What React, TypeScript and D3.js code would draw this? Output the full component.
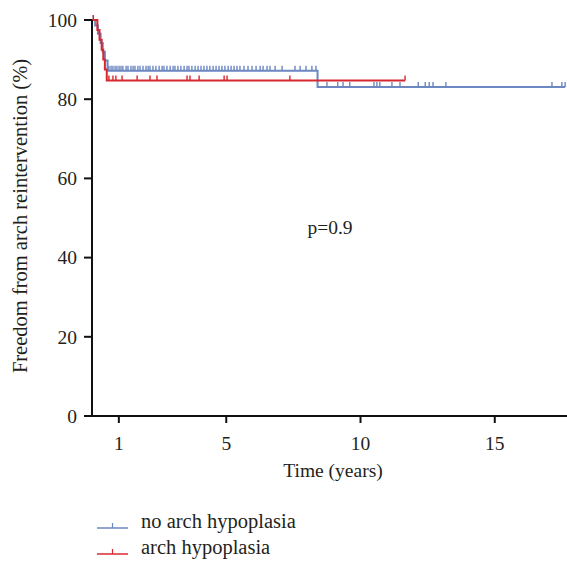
import React from "react";
import * as d3 from "d3";

const yTicks = [0, 20, 40, 60, 80, 100];
const xTicks = [1, 5, 10, 15];

// Kaplan-Meier step points [time, survival %]
const blueSteps: [number, number][] = [
  [0, 100], [0.12, 98.6], [0.22, 96.5], [0.32, 94.2], [0.4, 92], [0.48, 89.8], [0.58, 87.2], [8.4, 83.1], [17.62, 83.1],
];
const redSteps: [number, number][] = [
  [0, 100], [0.2, 97.5], [0.28, 95], [0.36, 92.5], [0.42, 90], [0.48, 87.5], [0.55, 84.7], [11.66, 84.7],
];
const blueCensor: number[] = [
  0.05, 0.63, 0.71, 0.78, 0.86, 0.93, 1.01, 1.08, 1.15, 1.27, 1.34, 1.45, 1.53, 1.6, 1.71, 1.79, 1.9, 2.01, 2.09, 2.16,
  2.27, 2.38, 2.5, 2.61, 2.68, 2.79, 2.91, 3.02, 3.09, 3.2, 3.31, 3.43, 3.54, 3.61, 3.72, 3.84, 3.95, 4.06,
  4.17, 4.28, 4.39, 4.51, 4.62, 4.73, 4.84, 4.95, 5.07, 5.18, 5.29, 5.4, 5.51, 5.66, 5.81, 5.96, 6.11, 6.26,
  6.37, 6.52, 6.63, 6.82, 7.08, 7.56, 7.75, 7.97, 8.19, 8.34,
  8.75, 9.15, 9.35, 9.6, 10.5, 10.61, 10.72, 11.17, 11.47, 12.15, 12.41, 12.56, 12.7, 13.18, 17.13, 17.5, 17.62,
];
const redCensor: number[] = [
  0.05, 0.63, 0.78, 0.89, 1.12, 1.68, 2.16, 2.42, 3.54, 3.65, 3.99, 4.92, 5.03, 7.37, 11.66,
];

const legendLabels = ["no arch hypoplasia", "arch hypoplasia"];
const colors = ["#6c87c2", "#d7282f"];

function survAt(steps: [number, number][], t: number) {
  let v = steps[0][1];
  for (const s of steps) if (s[0] <= t) v = s[1];
  return v;
}

export default function App() {
  const W = 567, H = 561;
  const x = d3.scaleLinear().domain([0, 17.69]).range([92, 567]);
  const y = d3.scaleLinear().domain([0, 100]).range([416, 20]);
  const line = d3.line<[number, number]>().x(d => x(d[0])).y(d => y(d[1])).curve(d3.curveStepAfter);
  const font = "'Liberation Serif', 'Times New Roman', serif";
  const txt = "#231f20";
  const series = [
    { steps: blueSteps, censor: blueCensor, color: colors[0] },
    { steps: redSteps, censor: redCensor, color: colors[1] },
  ];
  return (
    <svg width={W} height={H} style={{ position: "absolute", left: 0, top: 0, background: "#fff" }} fontFamily={font}>
      {series.map((s, i) => (
        <g key={i}>
          <path d={line(s.steps) || ""} fill="none" stroke={s.color} strokeWidth={2} />
          {s.censor.map((t, j) => {
            const yy = y(survAt(s.steps, t));
            return <line key={j} x1={x(t)} x2={x(t)} y1={yy} y2={yy - 5} stroke={s.color} strokeWidth={1.4} />;
          })}
        </g>
      ))}
      {/* axes */}
      <line x1={92} x2={92} y1={y(100)} y2={y(0)} stroke="#111" strokeWidth={2} />
      <line x1={84} x2={567} y1={y(0)} y2={y(0)} stroke="#111" strokeWidth={2} />
      {yTicks.map(t => (
        <g key={t}>
          <line x1={84} x2={92} y1={y(t)} y2={y(t)} stroke="#111" strokeWidth={2} />
          <text x={77} y={y(t)} dy="0.35em" textAnchor="end" fontSize={19.5} fill={txt}>{t}</text>
        </g>
      ))}
      {xTicks.map(t => (
        <g key={t}>
          <line x1={x(t)} x2={x(t)} y1={y(0)} y2={y(0) + 7} stroke="#111" strokeWidth={2} />
          <text x={x(t)} y={450} textAnchor="middle" fontSize={19.5} fill={txt}>{t}</text>
        </g>
      ))}
      <text x={333} y={477} textAnchor="middle" fontSize={19.5} fill={txt}>Time (years)</text>
      <text transform={`translate(27,216) rotate(-90)`} textAnchor="middle" fontSize={20.5} fill={txt}>
        Freedom from arch reintervention (%)
      </text>
      <text x={330} y={234} textAnchor="middle" fontSize={19.5} fill={txt}>p=0.9</text>
      {legendLabels.map((l, i) => {
        const ly = 528 + i * 26;
        return (
          <g key={l}>
            <line x1={97} x2={128} y1={ly} y2={ly} stroke={colors[i]} strokeWidth={1.5} />
            <line x1={112.5} x2={112.5} y1={ly} y2={ly - 5} stroke={colors[i]} strokeWidth={1.2} />
            <text x={141} y={ly} fontSize={20.5} fill={txt}>{l}</text>
          </g>
        );
      })}
    </svg>
  );
}
